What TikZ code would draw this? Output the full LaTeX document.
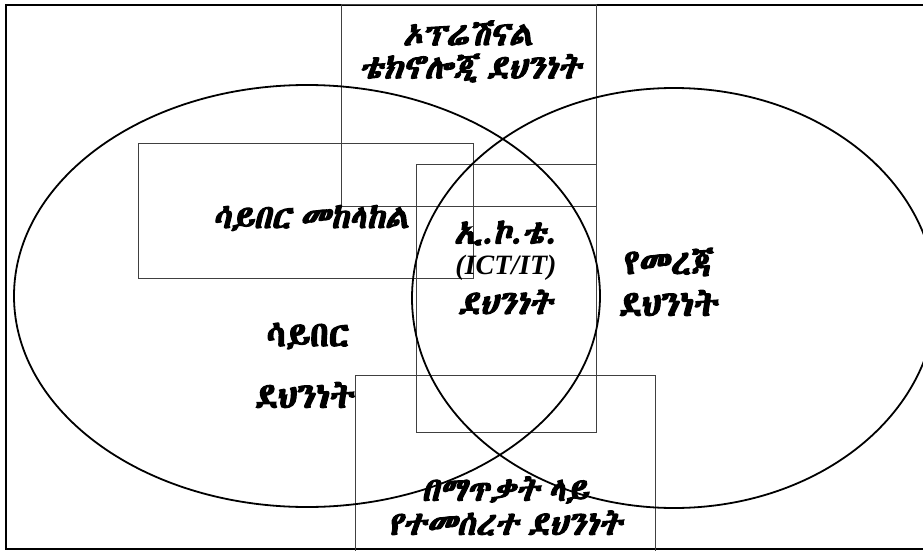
\documentclass[tikz,border=0pt]{standalone}
\usepackage{fontspec}
\setmainfont{Liberation Serif}
\newfontfamily\ethup[FakeBold=3.5]{Abyssinica SIL}
\newfontfamily\ethit[FakeBold=3.5,FakeSlant=0.22,WordSpace=0.6]{Abyssinica SIL}
\tikzset{
  frame/.style={line width=1.6pt,black},
  box/.style={line width=1pt,draw=black!75},
  oval/.style={line width=1.8pt,black},
  uplabel/.style={font=\ethup\fontsize{35}{40}\selectfont,align=center,inner sep=0pt},
  itlabel/.style={font=\ethit\fontsize{33}{38}\selectfont,align=center,inner sep=0pt},
}
\begin{document}
\begin{tikzpicture}[x=1pt,y=-1pt]
\useasboundingbox (0,0) rectangle (923,551);
\clip (0,0) rectangle (923,551);
\fill[white] (0,0) rectangle (923,551);
\draw[frame] (6,5) rectangle (940,549);
\draw[box] (341,5) rectangle (596,206);
\draw[box] (138,143) rectangle (473,278);
\draw[box] (416,164) rectangle (596,432);
\draw[box] (355,375) rectangle (655,560);
\draw[oval] (307,296) ellipse [x radius=293,y radius=211];
\draw[oval] (674,298) ellipse [x radius=262,y radius=210];
\node[itlabel] (ot1) at (468,33) {ኦፕሬሽናል};
\node[itlabel] (ot2) at (470,68) {ቴክኖሎጂ ደህንነት};
\node[itlabel] (cd) at (311,218) {ሳይበር መከላከል};
\node[itlabel] (ict1) at (505,233) {ኢ.ኮ.ቴ.};
\node[font=\bfseries\itshape\fontsize{28}{32}\selectfont,inner sep=0pt] (ict2) at (506,268) {(ICT/IT)};
\node[itlabel] (ict3) at (505,302) {ደህንነት};
\node[uplabel] (is1) at (669,262) {የመረጃ};
\node[uplabel] (is2) at (669,303) {ደህንነት};
\node[uplabel] (cs1) at (308,336) {ሳይበር};
\node[uplabel] (cs2) at (305,395) {ደህንነት};
\node[itlabel] (ab1) at (505,490) {በማጥቃት ላይ};
\node[itlabel] (ab2) at (505,523) {የተመሰረተ ደህንነት};
\end{tikzpicture}
\end{document}
